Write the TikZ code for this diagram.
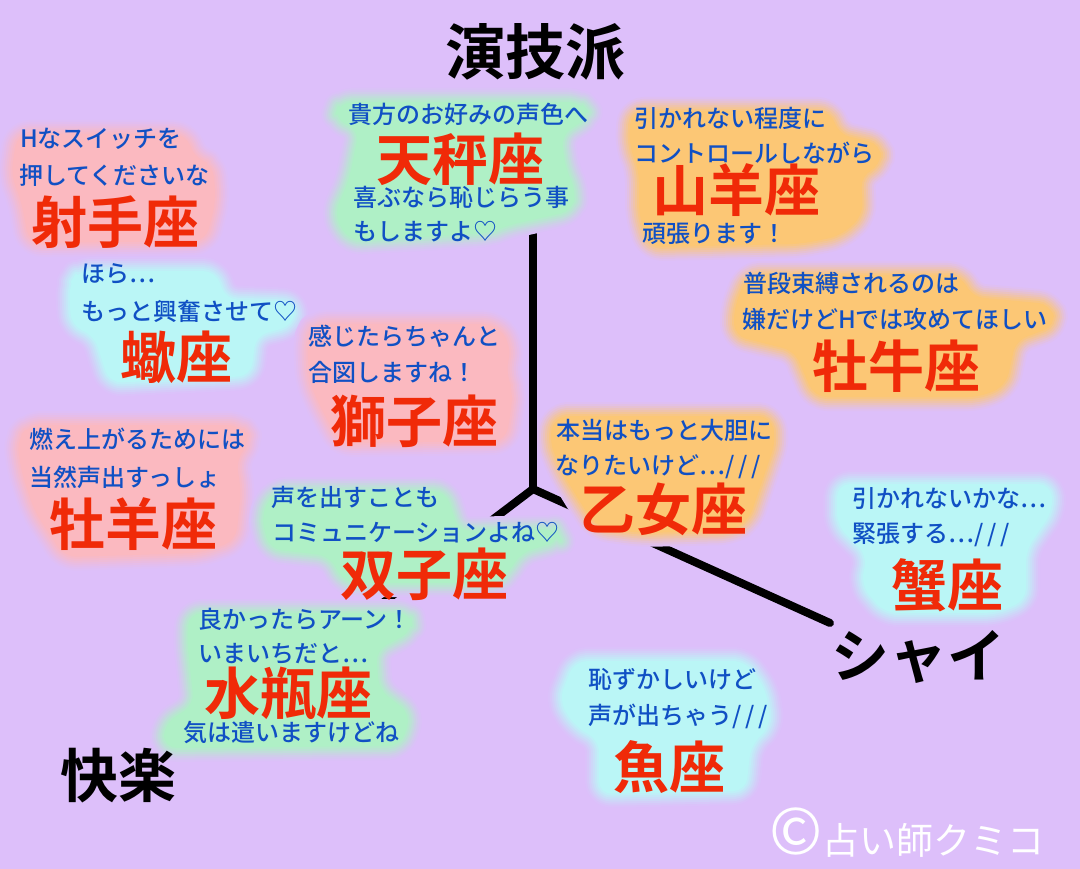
\documentclass[tikz,border=0pt]{standalone}
\usepackage{fontspec}
\newfontfamily\jpmsg{Noto Sans CJK JP Medium}
\newfontfamily\jpreg{Noto Sans CJK JP}
\newfontfamily\jpbig{Noto Sans CJK JP Bold}
\definecolor{bgc}{HTML}{DDBFFA}
\definecolor{pinkc}{HTML}{FCB9BE}
\definecolor{greenc}{HTML}{ADF2C4}
\definecolor{cyanc}{HTML}{B9F8F6}
\definecolor{orangec}{HTML}{FDC76F}
\definecolor{redc}{HTML}{F02A08}
\definecolor{bluec}{HTML}{1050C4}
\tikzset{
  msg/.style={anchor=west,inner sep=0pt,text=bluec,font=\jpmsg\fontsize{24}{26}\selectfont},
  sign/.style={inner sep=0pt,text=redc,font=\jpbig\fontsize{56}{60}\selectfont},
  axislabel/.style={inner sep=0pt,text=black,font=\jpbig\fontsize{60}{64}\selectfont},
  axisline/.style={draw=black,line width=8pt,line cap=round},
  mark text/.style={inner sep=0pt,text=white,font=\jpreg\fontsize{37}{44}\selectfont}
}
\newcommand{\glowblob}[2]{%
  \foreach \w/\m in {30/6,26/16,22/28,18/42,14/56,10/70,6/84,2/96}{%
    \path[draw=#1!\m!bgc,fill=#1!\m!bgc,line width=\w pt,line join=round,rounded corners=12pt] #2 -- cycle;
  }%
}
\newcommand{\slashes}{/\hspace{4pt}/\hspace{4pt}/}
\begin{document}
\begin{tikzpicture}[x=1pt,y=-1pt]
\useasboundingbox (0,0) rectangle (1080,869);
\fill[bgc] (0,0) rectangle (1080,869);

% axes (the glows lie over them)
\coordinate (centre) at (533,489);
\coordinate (topend) at (533,190);
\coordinate (leftend) at (376,608);
\coordinate (rightend) at (830,623);
\draw[axisline] (centre) -- (topend);
\draw[axisline] (centre) -- (leftend);
\draw[axisline] (centre) -- (rightend);

% glows
\glowblob{pinkc}{(18,135) -- (185,135) -- (195,160) -- (212,165) -- (215,200) -- (205,240) -- (30,242) -- (22,200) -- (12,175)}
\glowblob{cyanc}{(78,272) -- (215,272) -- (225,300) -- (295,303) -- (292,325) -- (255,335) -- (250,375) -- (110,382) -- (95,335) -- (72,325) -- (70,285)}
\glowblob{greenc}{(340,103) -- (580,103) -- (590,115) -- (560,135) -- (565,170) -- (575,190) -- (572,210) -- (505,225) -- (490,232) -- (350,240) -- (335,215) -- (350,180) -- (360,130) -- (335,118)}
\glowblob{orangec}{(632,112) -- (830,112) -- (838,135) -- (880,145) -- (880,165) -- (860,175) -- (862,215) -- (840,235) -- (800,243) -- (650,246) -- (640,215) -- (640,170) -- (630,145)}
\glowblob{orangec}{(748,276) -- (960,276) -- (972,298) -- (1050,305) -- (1055,325) -- (1015,340) -- (1005,385) -- (980,396) -- (815,396) -- (795,350) -- (735,335) -- (735,308)}
\glowblob{pinkc}{(315,325) -- (495,325) -- (510,345) -- (505,375) -- (512,390) -- (510,410) -- (505,440) -- (340,442) -- (318,400) -- (310,380) -- (308,340)}
\glowblob{pinkc}{(30,426) -- (240,426) -- (250,440) -- (235,460) -- (240,490) -- (235,540) -- (200,552) -- (65,556) -- (35,510) -- (22,470) -- (18,440)}
\glowblob{orangec}{(556,417) -- (770,417) -- (775,440) -- (765,470) -- (758,490) -- (748,520) -- (730,530) -- (640,532) -- (597,526) -- (585,508) -- (563,472) -- (550,440)}
\glowblob{greenc}{(275,492) -- (445,492) -- (458,532) -- (555,530) -- (560,540) -- (520,552) -- (508,572) -- (495,582) -- (345,582) -- (330,555) -- (270,548) -- (262,515)}
\glowblob{greenc}{(190,614) -- (410,614) -- (412,630) -- (375,650) -- (378,690) -- (410,715) -- (400,745) -- (165,747) -- (165,725) -- (195,705) -- (188,640)}
\glowblob{cyanc}{(838,485) -- (1050,485) -- (1052,510) -- (1025,550) -- (1025,600) -- (995,612) -- (885,612) -- (862,585) -- (868,555) -- (838,525)}
\glowblob{cyanc}{(575,662) -- (745,662) -- (765,690) -- (770,725) -- (750,745) -- (745,790) -- (600,793) -- (600,740) -- (575,725) -- (560,700)}

% axis labels
\node[axislabel] (enghi) at (535,52) {演技派};
\node[axislabel,font=\jpbig\fontsize{58}{62}\selectfont] (kairaku) at (118,776) {快楽};
\node[axislabel,font=\jpbig\fontsize{58}{62}\selectfont] (shy) at (918,657) {シャイ};

% Sagittarius
\node[msg] (sag1) at (20,139) {Hなスイッチを};
\node[msg] (sag2) at (19,175) {押してくださいな};
\node[sign] (sag) at (115,222) {射手座};
% Scorpio
\node[msg] (sco1) at (81,274) {ほら…};
\node[msg] (sco2) at (81,311) {もっと興奮させて♡};
\node[sign] (sco) at (176,357) {蠍座};
% Libra
\node[msg] (lib1) at (348,114) {貴方のお好みの声色へ};
\node[sign] (lib) at (460,159) {天秤座};
\node[msg] (lib2) at (353,197) {喜ぶなら恥じらう事};
\node[msg] (lib3) at (353,232) {もしますよ♡};
% Capricorn
\node[msg] (cap1) at (634,118) {引かれない程度に};
\node[msg] (cap2) at (634,153) {コントロールしながら};
\node[sign] (cap) at (736,190) {山羊座};
\node[msg] (cap3) at (642,234) {頑張ります！};
% Taurus
\node[msg] (tau1) at (743,283) {普段束縛されるのは};
\node[msg] (tau2) at (742,319) {嫌だけどHでは攻めてほしい};
\node[sign] (tau) at (896,366) {牡牛座};
% Leo
\node[msg] (leo1) at (308,336) {感じたらちゃんと};
\node[msg] (leo2) at (308,372) {合図しますね！};
\node[sign] (leo) at (414,421) {獅子座};
% Aries
\node[msg] (ari1) at (29,439) {燃え上がるためには};
\node[msg] (ari2) at (29,477) {当然声出すっしょ};
\node[sign] (ari) at (133,524) {牡羊座};
% Virgo
\node[msg] (vir1) at (556,430) {本当はもっと大胆に};
\node[msg] (vir2) at (555,467) {なりたいけど…\slashes};
\node[sign] (vir) at (663,509) {乙女座};
% Gemini
\node[msg] (gem1) at (271,497) {声を出すことも};
\node[msg] (gem2) at (272,533) {コミュニケーションよね♡};
\node[sign] (gem) at (424,574) {双子座};
% Aquarius
\node[msg] (aqu1) at (198,619) {良かったらアーン！};
\node[msg] (aqu2) at (198,654) {いまいちだと…};
\node[sign] (aqu) at (288,693) {水瓶座};
\node[msg] (aqu3) at (183,732) {気は遣いますけどね};
% Cancer
\node[msg] (can1) at (852,499) {引かれないかな…};
\node[msg] (can2) at (852,535) {緊張する…\slashes};
\node[sign] (can) at (947,585) {蟹座};
% Pisces
\node[msg] (pis1) at (588,679) {恥ずかしいけど};
\node[msg] (pis2) at (588,716) {声が出ちゃう\slashes};
\node[sign] (pis) at (669,767) {魚座};
% signature
\node[mark text,anchor=base west] (signature) at (769,854) {{\fontsize{64}{66}\selectfont ©}占い師クミコ};
\end{tikzpicture}
\end{document}
